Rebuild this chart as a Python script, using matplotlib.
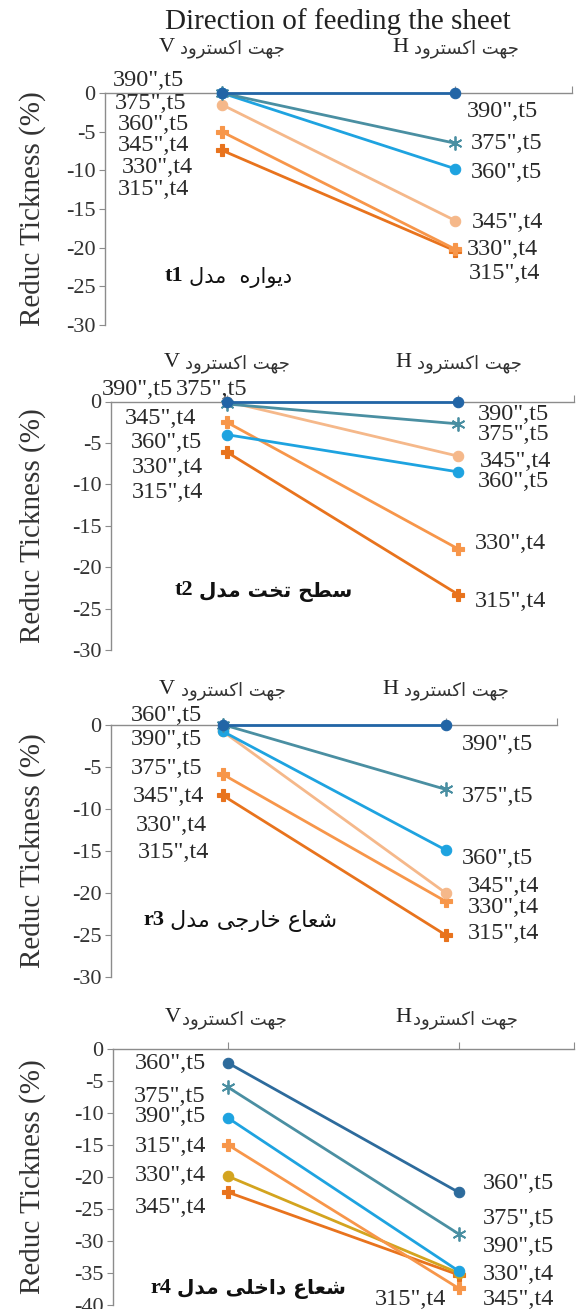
import matplotlib
matplotlib.use('Agg')
import matplotlib.pyplot as plt

plt.rcParams['axes.unicode_minus'] = False
plt.rcParams['font.family'] = ['Liberation Serif', 'DejaVu Sans']

W, H = 583, 1309

# ---------------- data ----------------
cats = ['V', 'H']
cat_text = 'جهت اکسترود'

t1_names = ['390",t5', '375",t5', '360",t5', '345",t4', '330",t4', '315",t4']
t1_v = [0, 0, 0, -1.5, -5.0, -7.4]
t1_h = [0, -6.5, -9.8, -16.5, -20.2, -20.4]

t2_names = ['390",t5', '375",t5', '360",t5', '345",t4', '330",t4', '315",t4']
t2_v = [0, -0.3, -4.0, 0, -2.5, -6.1]
t2_h = [0, -2.7, -8.5, -6.6, -17.8, -23.3]

r3_names = ['390",t5', '375",t5', '360",t5', '345",t4', '330",t4', '315",t4']
r3_v = [0, 0, -0.8, -0.8, -5.9, -8.4]
r3_h = [0, -7.7, -14.9, -20.0, -21.0, -25.0]

r4_names = ['360",t5', '375",t5', '390",t5', '315",t4', '330",t4', '345",t4']
r4_v = [-2.2, -6.0, -10.8, -15.0, -19.9, -22.4]
r4_h = [-22.4, -28.9, -34.7, -37.4, -35.0, -35.3]

model_fa = ['دیواره  مدل', 'سطح تخت مدل', 'شعاع خارجی مدل', 'شعاع داخلی مدل']
model_en = ['t1', 't2', 'r3', 'r4']

# ---------------- styles ----------------
DBLUE, TEAL, LBLUE = '#2265a6', '#4a8fa2', '#1ea3e0'
PEACH, ORANGE, DORANGE, GOLD = '#f5b88a', '#f7964a', '#e8731d', '#d3a41f'
STAR = (6, 2, 0)
styles_std = [(DBLUE, 'o'), (TEAL, STAR), (LBLUE, 'o'), (PEACH, 'o'), (ORANGE, 'P'), (DORANGE, 'P')]
styles_r4 = [('#2d6b9c', 'o'), (TEAL, STAR), (LBLUE, 'o'), (ORANGE, 'P'), (GOLD, 'o'), (DORANGE, 'P')]

# label positions (x, y in data units) for the left (V) and right (H) columns
t1_lab_l = [(-0.16, 1.6), (-0.15, -1.3), (-0.14, -4.1), (-0.14, -6.8), (-0.125, -9.6), (-0.14, -12.5)]
t1_lab_r = [(1.05, -2.4), (1.065, -6.5), (1.065, -10.3), (1.07, -16.8), (1.05, -20.2), (1.06, -23.4)]
t2_lab_l = [(-0.23, 1.4), (0.09, 1.4), (-0.105, -5.0), (-0.13, -2.0), (-0.105, -8.0), (-0.1, -11.0)]
t2_lab_r = [(1.085, -1.6), (1.085, -4.0), (1.085, -9.7), (1.095, -7.3), (1.07, -17.1), (1.07, -24.2)]
r3_lab_l = [(-0.09, -1.8), (-0.09, -5.2), (-0.09, 1.1), (-0.08, -8.6), (-0.07, -12.0), (-0.06, -15.2)]
r3_lab_r = [(1.075, -2.4), (1.075, -8.6), (1.075, -15.9), (1.1, -19.3), (1.1, -21.7), (1.1, -24.8)]
r4_lab_l = [(-0.097, -2.2), (-0.097, -7.5), (-0.097, -10.6), (-0.097, -15.3), (-0.097, -19.7), (-0.097, -24.7)]
r4_lab_r = [(1.105, -21.0), (1.105, -26.5), (1.105, -30.8), (0.637, -39.1), (1.105, -35.3), (1.105, -39.1)]

FORMS = {
    '\u0627': (0xFE8D, 0xFE8E, None, None),
    '\u062A': (0xFE95, 0xFE96, 0xFE97, 0xFE98),
    '\u062C': (0xFE9D, 0xFE9E, 0xFE9F, 0xFEA0),
    '\u062D': (0xFEA1, 0xFEA2, 0xFEA3, 0xFEA4),
    '\u062E': (0xFEA5, 0xFEA6, 0xFEA7, 0xFEA8),
    '\u062F': (0xFEA9, 0xFEAA, None, None),
    '\u0631': (0xFEAD, 0xFEAE, None, None),
    '\u0633': (0xFEB1, 0xFEB2, 0xFEB3, 0xFEB4),
    '\u0634': (0xFEB5, 0xFEB6, 0xFEB7, 0xFEB8),
    '\u0637': (0xFEC1, 0xFEC2, 0xFEC3, 0xFEC4),
    '\u0639': (0xFEC9, 0xFECA, 0xFECB, 0xFECC),
    '\u0644': (0xFEDD, 0xFEDE, 0xFEDF, 0xFEE0),
    '\u0645': (0xFEE1, 0xFEE2, 0xFEE3, 0xFEE4),
    '\u0647': (0xFEE9, 0xFEEA, 0xFEEB, 0xFEEC),
    '\u0648': (0xFEED, 0xFEEE, None, None),
    '\u06A9': (0xFB8E, 0xFB8F, 0xFB90, 0xFB91),
    '\u06CC': (0xFBFC, 0xFBFD, 0xFBFE, 0xFBFF),
}


def fa(s):
    # matplotlib does no arabic shaping, so pick presentation forms and reverse
    s = s.replace('\u0643', '\u06A9').replace('\u064A', '\u06CC')
    out = []
    for i, ch in enumerate(s):
        f = FORMS.get(ch)
        if f is None:
            out.append(ch)
            continue
        prev = s[i - 1] if i > 0 else ''
        nxt = s[i + 1] if i + 1 < len(s) else ''
        jp = prev in FORMS and FORMS[prev][2] is not None
        jn = f[2] is not None and nxt in FORMS
        if jp and jn:
            cp = f[3]
        elif jp:
            cp = f[1]
        elif jn:
            cp = f[2]
        else:
            cp = f[0]
        out.append(chr(cp))
    return ''.join(out[::-1])


fig = plt.figure(figsize=(W / 100, H / 100), dpi=100)
fig.text(338 / W, 1 - 22 / H, 'Direction of feeding the sheet', ha='center', va='center',
         fontsize=21, color='#222222', family='Liberation Serif')

panels = [
    # box (left, right, top, bottom px), ymin, names, v, h, styles, left labels, right labels,
    # cat label offset px, cat gap px, model y, model x, model font size, model bold
    ((105, 572, 93, 325), -30, t1_names, t1_v, t1_h, styles_std, t1_lab_l, t1_lab_r, 46, 4, -23.7, -0.165, 15, False),
    ((111, 574, 401.5, 650), -30, t2_names, t2_v, t2_h, styles_std, t2_lab_l, t2_lab_r, 39, 4, -22.8, -0.145, 14.5, True),
    ((111, 557, 724.5, 977), -30, r3_names, r3_v, r3_h, styles_std, r3_lab_l, r3_lab_r, 35, 4, -23.2, -0.26, 16, False),
    ((113, 574, 1049, 1305), -40, r4_names, r4_v, r4_h, styles_r4, r4_lab_l, r4_lab_r, 31, 1, -37.3, -0.245, 14.5, True),
]

for k, (box, ymin, names, v, h, sty, lab_l, lab_r, coff, gap, my, mx, mfs, mbold) in enumerate(panels):
    l, r, t, b = box
    ax = fig.add_axes([l / W, 1 - b / H, (r - l) / W, (b - t) / H])
    ax.set_xlim(-0.5, 1.5)
    ax.set_ylim(ymin, 0)
    for sp in ['right', 'bottom']:
        ax.spines[sp].set_visible(False)
    for sp in ['left', 'top']:
        ax.spines[sp].set_color('#8c8c8c')
        ax.spines[sp].set_linewidth(1.0)
    ax.set_yticks(range(ymin, 1, 5))
    ax.set_yticklabels([str(y) for y in range(ymin, 1, 5)])
    ax.tick_params(axis='y', direction='out', length=4, color='#8c8c8c', labelsize=16,
                   labelcolor='#333333', pad=3)
    ax.xaxis.tick_top()
    ax.set_xticks([0, 1, 1.5])
    ax.set_xticklabels([])
    ax.tick_params(axis='x', direction='out', length=5, color='#8c8c8c')
    ax.set_ylabel('Reduc Tickness (%)', fontsize=21, color='#333333')
    ax.yaxis.set_label_coords((46 - l) / (r - l), 0.5)

    for i, name in enumerate(names):
        c, m = sty[i]
        star = not isinstance(m, str)
        ax.plot([0, 1], [v[i], h[i]], color=c, lw=2.0, marker=m,
                ms=10 if star else (8 if m == 'P' else 7.5),
                mew=1.3 if star else 0.8, mec=c, clip_on=False, zorder=3 + (5 - i) * 0.1)
        ax.text(lab_l[i][0], lab_l[i][1], name, ha='right', va='center', fontsize=17.5,
                color='#2a2a2a', family='Liberation Serif')
        ax.text(lab_r[i][0], lab_r[i][1], name, ha='left', va='center', fontsize=17.5,
                color='#2a2a2a', family='Liberation Serif', clip_on=False)

    for j, cat in enumerate(cats):
        # latin letter left of the persian words, the group centred on the category
        ax.annotate(cat, xy=(j, 0), xycoords='data', xytext=(-34, coff * 0.72),
                    textcoords='offset points', ha='right', va='center', fontsize=16,
                    color='#222222', family='Liberation Serif', annotation_clip=False)
        ax.annotate(fa(cat_text), xy=(j, 0), xycoords='data', xytext=(-34 + gap, coff * 0.72 - 1),
                    textcoords='offset points', ha='left', va='center', fontsize=13,
                    color='#333333', family='DejaVu Sans', annotation_clip=False)

    ax.text(mx, my, model_en[k], ha='right', va='center', fontsize=16, fontweight='bold',
            color='#111111', family='Liberation Serif')
    ax.annotate(fa(model_fa[k]), xy=(mx, my), xycoords='data', xytext=(4, -1),
                textcoords='offset points', ha='left', va='center', fontsize=mfs,
                fontweight='bold' if mbold else 'normal', color='#111111', family='DejaVu Sans')

fig.savefig('out.png', dpi=100)
